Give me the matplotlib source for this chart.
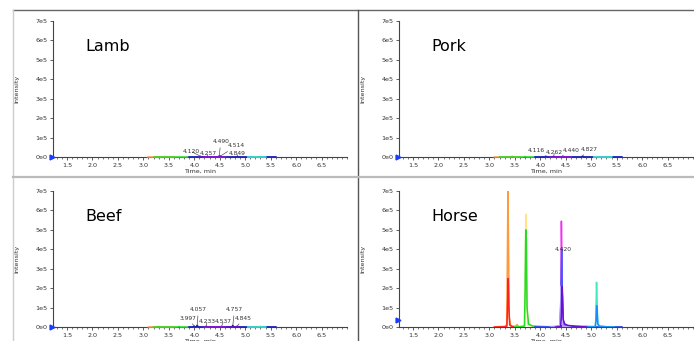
import matplotlib
matplotlib.use("Agg")
import matplotlib.pyplot as plt
from matplotlib.lines import Line2D
from matplotlib.ticker import MultipleLocator, FixedLocator, FixedFormatter

# ---------------- data ----------------
samples = ["Lamb", "Pork", "Beef", "Horse"]
y_ticks = [0, 1e5, 2e5, 3e5, 4e5, 5e5, 6e5, 7e5]
y_tick_labels = ["0e0", "1e5", "2e5", "3e5", "4e5", "5e5", "6e5", "7e5"]
x_ticks = [1.5, 2.0, 2.5, 3.0, 3.5, 4.0, 4.5, 5.0, 5.5, 6.0, 6.5]

# MRM traces: 0 orange,1 red,2 yellow,3 green,4 magenta,5 blue,6 purple,7 cyan,8 azure,9 navy,10 lavender
trace_colors = ["#ff9a3c", "#ff2020", "#ffe38a", "#22dd22", "#ee33ee",
                "#3d5cff", "#6a10d0", "#3fe8c0", "#1a8cff", "#1c1ca8", "#b3a6ff"]
trace_start = [3.10, 3.10, 3.45, 3.20, 4.20, 3.90, 4.20, 5.05, 5.05, 3.90, 4.20]
trace_end = [3.60, 3.60, 3.95, 3.90, 4.60, 5.60, 4.60, 5.40, 5.40, 5.60, 4.70]
low_order = [0, 3, 5, 9, 4, 6, 8, 7]
horse_order = [0, 1, 2, 3, 9, 4, 5, 10, 6, 7, 8]

# low-level samples: small peaks (rt, height, trace)
lamb_rt = [4.120, 4.257, 4.490, 4.514, 4.849, 5.20]
lamb_h = [4e3, 4e3, 6e3, 5e3, 3e3, 2e3]
lamb_tr = [6, 4, 9, 6, 9, 7]
lamb_labels = ["4.120", "4.257", "4.490", "4.514", "4.849", ""]

pork_rt = [3.45, 3.70, 4.116, 4.262, 4.440, 4.827, 5.10]
pork_h = [4e3, 3e3, 3e3, 4e3, 5e3, 4e3, 2e3]
pork_tr = [0, 3, 9, 6, 4, 9, 7]
pork_labels = ["", "", "4.116", "4.262", "4.440", "4.827", ""]

beef_rt = [3.30, 3.70, 3.997, 4.057, 4.233, 4.537, 4.757, 4.845, 5.30]
beef_h = [3e3, 3e3, 5e3, 9e3, 4e3, 4e3, 8e3, 5e3, 4e3]
beef_tr = [0, 3, 9, 9, 6, 4, 9, 6, 7]
beef_labels = ["", "", "3.997", "4.057", "4.233", "4.537", "4.757", "4.845", ""]

# horse: full chromatogram traces
horse_orange_t = [3.10, 3.20, 3.30, 3.34, 3.352, 3.365, 3.378, 3.39, 3.42, 3.50, 3.55, 3.57, 3.60]
horse_orange_i = [0, 2e3, 3e3, 1e4, 3e5, 7.2e5, 4e5, 5e4, 5e3, 3e3, 1.2e4, 3e3, 0]
horse_red_t = [3.10, 3.30, 3.345, 3.358, 3.37, 3.382, 3.40, 3.45, 3.60]
horse_red_i = [0, 1e3, 5e3, 1.2e5, 2.5e5, 1.1e5, 1e4, 2e3, 0]
horse_yellow_t = [3.50, 3.69, 3.703, 3.715, 3.728, 3.75, 3.90]
horse_yellow_i = [0, 2e3, 2e5, 5.8e5, 2.5e5, 1e4, 0]
horse_green_t = [3.50, 3.60, 3.69, 3.703, 3.715, 3.727, 3.74, 3.77, 3.85, 4.00, 4.30]
horse_green_i = [0, 2e3, 5e3, 2e5, 5.0e5, 4.5e5, 1e5, 1.5e4, 5e3, 3e3, 0]
horse_magenta_t = [4.20, 4.39, 4.403, 4.415, 4.428, 4.44, 4.47, 4.60, 4.75]
horse_magenta_i = [0, 1e3, 1e5, 5.45e5, 3e5, 3e4, 5e3, 2e3, 0]
horse_blue_t = [3.90, 4.30, 4.39, 4.405, 4.42, 4.432, 4.45, 4.50, 4.80, 5.20, 5.60]
horse_blue_i = [0, 2e3, 5e3, 1.5e5, 4.0e5, 2e5, 3e4, 5e3, 2e3, 1e3, 0]
horse_lav_t = [4.20, 4.38, 4.398, 4.41, 4.422, 4.44, 4.60]
horse_lav_i = [0, 1e3, 8e4, 2.1e5, 9e4, 5e3, 0]
horse_purple_t = [4.30, 4.40, 4.413, 4.425, 4.437, 4.45, 4.48, 4.55, 4.70, 4.90]
horse_purple_i = [0, 2e3, 5e4, 2.1e5, 1.5e5, 4e4, 1.5e4, 8e3, 3e3, 0]
horse_cyan_t = [4.95, 5.08, 5.093, 5.105, 5.117, 5.13, 5.16, 5.30, 5.45]
horse_cyan_i = [0, 2e3, 5e4, 2.3e5, 1.2e5, 2e4, 5e3, 1e3, 0]
horse_azure_t = [4.95, 5.08, 5.095, 5.107, 5.119, 5.13, 5.16, 5.30, 5.45]
horse_azure_i = [0, 1e3, 3e4, 1.1e5, 7e4, 1.5e4, 4e3, 1e3, 0]
horse_navy_t = [3.90, 4.40, 4.43, 4.47, 4.60, 5.60]
horse_navy_i = [0, 2e3, 8e3, 5e3, 3e3, 0]
horse_labels = ["4.420"]
horse_label_rt = [4.42]
horse_label_h = [4.0e5]

arrow_level = [0, 0, 0, 3.6e4]

# ---------------- layout ----------------
W, H = 694, 341
fig = plt.figure(figsize=(W / 100, H / 100), dpi=100)
plt.rcParams['font.family'] = ['DejaVu Sans']

ax_px = [(53, 21), (399, 21), (53, 191), (399, 191)]  # (left, top) in px
ax_w, ax_h = 294, 136

# label text positions (data) for low samples
lamb_pos = [(3.95, 2.7e4), (4.27, 1.6e4), (4.52, 7.8e4), (4.83, 5.7e4), (4.84, 1.6e4), None]
pork_pos = [None, None, (3.93, 3.6e4), (4.28, 2.1e4), (4.61, 3.6e4), (4.96, 4.1e4), None]
beef_pos = [None, None, (3.87, 4.6e4), (4.08, 8.8e4), (4.25, 2.6e4), (4.57, 2.6e4), (4.79, 8.8e4), (4.97, 4.6e4), None]

low = {
    "Lamb": (lamb_rt, lamb_h, lamb_tr, lamb_labels, lamb_pos),
    "Pork": (pork_rt, pork_h, pork_tr, pork_labels, pork_pos),
    "Beef": (beef_rt, beef_h, beef_tr, beef_labels, beef_pos),
}
horse_traces = {
    0: (horse_orange_t, horse_orange_i), 1: (horse_red_t, horse_red_i),
    2: (horse_yellow_t, horse_yellow_i), 3: (horse_green_t, horse_green_i),
    4: (horse_magenta_t, horse_magenta_i), 5: (horse_blue_t, horse_blue_i),
    10: (horse_lav_t, horse_lav_i), 6: (horse_purple_t, horse_purple_i),
    7: (horse_cyan_t, horse_cyan_i), 8: (horse_azure_t, horse_azure_i),
    9: (horse_navy_t, horse_navy_i),
}

tick_fs = 4.6
lab_fs = 4.3
axis_col = "#444444"

for k, name in enumerate(samples):
    l, t = ax_px[k]
    ax = fig.add_axes([l / W, 1 - (t + ax_h) / H, ax_w / W, ax_h / H])
    ax.set_xlim(1.225, 7.0)
    ax.set_ylim(0, 7e5)
    for s in ["top", "right"]:
        ax.spines[s].set_visible(False)
    for s in ["left", "bottom"]:
        ax.spines[s].set_color(axis_col)
        ax.spines[s].set_linewidth(0.8)
    ax.xaxis.set_major_locator(FixedLocator(x_ticks))
    ax.xaxis.set_minor_locator(MultipleLocator(0.1))
    ax.set_xticklabels([f"{v:.1f}" for v in x_ticks])
    ax.yaxis.set_major_locator(FixedLocator(y_ticks))
    ax.yaxis.set_major_formatter(FixedFormatter(y_tick_labels))
    ax.tick_params(axis="both", which="major", length=2.5, width=0.6, color=axis_col,
                   labelsize=tick_fs, labelcolor="#333333", pad=1.5)
    ax.tick_params(axis="x", which="minor", length=1.3, width=0.5, color=axis_col)
    ax.set_xlabel("Time, min", fontsize=tick_fs, color="#333333")
    ax.xaxis.set_label_coords(0.5, -0.085)
    ax.set_ylabel("Intensity", fontsize=tick_fs, color="#333333")
    ax.yaxis.set_label_coords(-0.115, 0.5)

    if name in low:
        rts, hs, trs, labs, poss = low[name]
        for tr in low_order:
            pts = [(trace_start[tr], 0.0), (trace_end[tr], 0.0)]
            for rt, h, ti in zip(rts, hs, trs):
                if ti == tr:
                    pts += [(rt - 0.02, 0.0), (rt, h), (rt + 0.02, 0.0)]
            pts.sort()
            ax.plot([p[0] for p in pts], [p[1] for p in pts], color=trace_colors[tr],
                    lw=1.1, solid_joinstyle="round", clip_on=False, zorder=3)
        for rt, h, lab, pos in zip(rts, hs, labs, poss):
            if not lab:
                continue
            ax.annotate(lab, xy=(rt, h), xytext=pos, textcoords="data",
                        fontsize=lab_fs, color="#333333", ha="center", va="center",
                        arrowprops=dict(arrowstyle="-", lw=0.5, color="#555555",
                                        shrinkA=0.5, shrinkB=0.5), zorder=4)
    else:
        for tr in horse_order:
            tt, ii = horse_traces[tr]
            ax.plot(tt, ii, color=trace_colors[tr], lw=1.1, zorder=3, clip_on=True)
        for lab, rt, h in zip(horse_labels, horse_label_rt, horse_label_h):
            ax.text(rt + 0.04, h, lab, fontsize=lab_fs, color="#333333",
                    ha="center", va="center", zorder=5)

    ax.plot([1.20], [arrow_level[k]], marker=">", color="#1a3cff", markersize=3.5,
            clip_on=False, zorder=6)
    ax.text(0.11, 0.81, name, transform=ax.transAxes, fontsize=11.5,
            ha="left", va="center", color="black")

# panel borders
def fline(x0, y0, x1, y1, col, lw):
    fig.add_artist(Line2D([x0 / W, x1 / W], [1 - y0 / H, 1 - y1 / H],
                          color=col, lw=lw))

fline(13, 10, 694, 10, "#666666", 1.0)
fline(13, 10, 13, 341, "#cccccc", 1.0)
fline(358, 10, 358, 341, "#555555", 1.0)
fline(13, 176.5, 694, 176.5, "#bbbbbb", 1.6)

fig.savefig("out.png", dpi=100)
